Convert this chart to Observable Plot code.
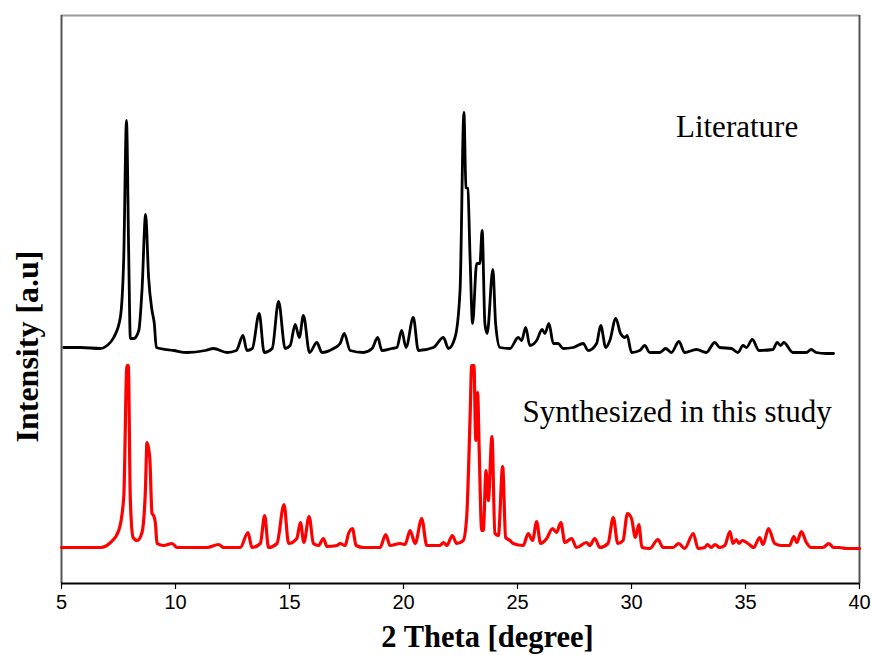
<!DOCTYPE html>
<html>
<head>
<meta charset="utf-8">
<script src="https://cdn.jsdelivr.net/npm/d3@7"></script>
<script src="https://cdn.jsdelivr.net/npm/@observablehq/plot@0.6"></script>
<style>
  html, body { margin: 0; padding: 0; background: #ffffff; }
  #chart { width: 871px; height: 655px; }
</style>
</head>
<body>
<div id="chart"></div>
<script>
// ---- data (2θ in degrees, intensity in arbitrary units) ----
const xDomain = [5, 40];
const yDomain = [2, 570];
const xTicks = [5, 10, 15, 20, 25, 30, 35, 40];

const seriesNames = ["Literature", "Synthesized in this study"];
const labelX = [31.95, 25.22];
const labelY = [449, 163.5];

// Literature pattern (drawn with a vertical offset)
const literature = [
  [5.10,238],[5.83,238],[6.71,237],[7.00,240],[7.29,248],[7.58,268],[7.73,328],[7.85,465],
  [7.95,328],[8.02,247],[8.17,247],[8.39,255],[8.53,295],[8.69,371],[8.82,308],[8.97,275],
  [9.07,262],[9.16,238],[9.92,235],[10.51,233],[11.31,235],[11.67,237],[12.26,233],[12.67,235],
  [12.96,250],[13.13,235],[13.37,237],[13.67,272],[13.89,233],[14.24,237],[14.52,284],[14.81,237],
  [15.03,240],[15.25,261],[15.43,248],[15.61,270],[15.88,233],[16.20,243],[16.42,233],[16.93,237],
  [17.22,242],[17.40,252],[17.66,235],[18.24,233],[18.62,237],[18.87,248],[19.05,235],[19.49,237],
  [19.71,238],[19.92,255],[20.11,238],[20.43,268],[20.65,235],[21.31,238],[21.75,248],[21.97,237],
  [22.26,248],[22.48,295],[22.65,473],[22.74,398],[22.82,397],[22.92,328],[23.03,262],[23.21,322],
  [23.35,322],[23.45,355],[23.57,262],[23.67,252],[23.92,316],[24.04,262],[24.23,238],[24.67,237],
  [25.03,248],[25.18,245],[25.36,258],[25.54,240],[25.84,245],[26.08,256],[26.20,252],[26.38,262],
  [26.57,242],[26.78,242],[27.00,237],[27.44,238],[27.88,242],[28.10,235],[28.47,242],[28.65,260],
  [28.87,238],[29.05,245],[29.31,267],[29.52,252],[29.71,248],[29.81,250],[30.00,233],[30.36,235],
  [30.58,240],[30.80,233],[31.24,233],[31.50,237],[31.75,233],[32.08,244],[32.33,233],[32.85,236],
  [33.28,233],[33.65,243],[33.87,238],[34.38,237],[34.67,233],[34.89,240],[35.04,238],[35.30,246],
  [35.59,235],[36.20,236],[36.39,243],[36.54,240],[36.68,243],[37.08,233],[37.67,233],[37.88,236],
  [38.10,233],[38.54,232],[38.86,232]
];

// Pattern of the sample synthesized in this study
const synthesized = [
  [5.00,38],[5.83,38],[6.71,38],[7.15,43],[7.51,55],[7.73,88],[7.87,220],[7.93,220],
  [8.02,85],[8.14,48],[8.32,45],[8.53,53],[8.68,95],[8.75,143],[8.87,128],[8.97,72],
  [9.04,70],[9.12,62],[9.19,42],[9.48,40],[9.85,42],[10.07,38],[11.38,38],[11.89,41],
  [12.11,38],[12.84,38],[13.18,53],[13.35,38],[13.72,42],[13.91,70],[14.08,38],[14.45,42],
  [14.76,81],[14.96,42],[15.32,47],[15.48,63],[15.63,43],[15.86,69],[16.05,42],[16.27,40],
  [16.49,47],[16.64,39],[17.08,40],[17.22,42],[17.44,40],[17.59,52],[17.76,57],[17.92,40],
  [18.24,38],[18.97,38],[19.22,51],[19.41,40],[19.85,42],[20.07,41],[20.29,55],[20.51,42],
  [20.80,67],[21.02,40],[21.60,40],[21.75,43],[21.90,40],[22.14,50],[22.33,42],[22.62,45],
  [22.77,68],[22.92,168],[22.99,220],[23.09,220],[23.17,145],[23.25,193],[23.32,135],[23.43,55],
  [23.50,55],[23.62,115],[23.72,85],[23.88,149],[24.01,52],[24.16,50],[24.35,119],[24.48,48],
  [24.67,45],[24.81,42],[25.25,40],[25.47,52],[25.66,45],[25.84,64],[26.01,42],[26.28,47],
  [26.54,57],[26.71,53],[26.90,63],[27.08,43],[27.37,47],[27.59,38],[28.03,43],[28.17,40],
  [28.39,47],[28.61,38],[28.97,42],[29.20,68],[29.40,42],[29.63,45],[29.82,72],[30.00,67],
  [30.17,48],[30.32,61],[30.46,38],[30.80,37],[31.16,46],[31.38,38],[31.82,38],[32.07,42],
  [32.33,37],[32.71,52],[32.92,37],[33.21,38],[33.33,41],[33.50,38],[33.66,41],[33.87,38],
  [34.09,40],[34.32,54],[34.45,42],[34.60,46],[34.71,42],[34.86,45],[35.11,42],[35.36,38],
  [35.62,48],[35.77,41],[36.01,57],[36.28,42],[36.57,40],[36.93,40],[37.12,49],[37.25,43],
  [37.45,54],[37.67,43],[37.88,38],[38.39,38],[38.66,42],[38.86,38],[39.12,38],[39.42,37],
  [40.00,37]
];

const xLabel = "2 Theta [degree]";
const yLabel = "Intensity [a.u]";

// ---- chart ----
const serif = "'Liberation Serif', 'Times New Roman', serif";
const sans = "'Liberation Sans', Arial, sans-serif";

const chart = Plot.plot({
  width: 871,
  height: 655,
  marginLeft: 61,
  marginRight: 12,
  marginTop: 15,
  marginBottom: 72,
  style: { background: "#ffffff", color: "#000000", overflow: "visible" },
  x: { domain: xDomain, ticks: xTicks },
  y: { domain: yDomain, axis: null },
  marks: [
    Plot.ruleY([yDomain[1]], { stroke: "#999999", strokeWidth: 2 }),
    Plot.ruleX([xDomain[0]], { stroke: "#555555", strokeWidth: 2 }),
    Plot.ruleX([xDomain[1]], { stroke: "#555555", strokeWidth: 2 }),
    Plot.line(literature, { x: d => d[0], y: d => d[1], curve: "monotone-x", stroke: "#000000", strokeWidth: 2.8, strokeLinejoin: "round" }),
    Plot.line(synthesized, { x: d => d[0], y: d => d[1], curve: "monotone-x", stroke: "#ff0000", strokeWidth: 3.2, strokeLinejoin: "round" }),
    Plot.ruleY([yDomain[0]], { stroke: "#000000", strokeWidth: 2 }),
    Plot.axisX({
      ticks: xTicks, tickSize: 6, tickPadding: 5, stroke: "#000000", strokeWidth: 1.2,
      fontSize: 20, fontFamily: sans, fill: "#000000", label: null, tickFormat: d => String(d)
    }),
    Plot.text(seriesNames, {
      x: (d, i) => labelX[i], y: (d, i) => labelY[i], text: d => d,
      textAnchor: "start", lineAnchor: "bottom", fontSize: 31, fontFamily: serif, fill: "#000000"
    }),
    Plot.text([xLabel], {
      frameAnchor: "bottom", dx: 27, dy: 63, lineAnchor: "bottom", textAnchor: "middle",
      fontSize: 30.5, fontWeight: "bold", fontFamily: serif, fill: "#000000"
    }),
    Plot.text([yLabel], {
      frameAnchor: "left", dx: -33.5, dy: 47, rotate: -90, lineAnchor: "middle", textAnchor: "middle",
      fontSize: 32, fontWeight: "bold", fontFamily: serif, fill: "#000000"
    })
  ]
});

document.getElementById("chart").appendChild(chart);
</script>
</body>
</html>
